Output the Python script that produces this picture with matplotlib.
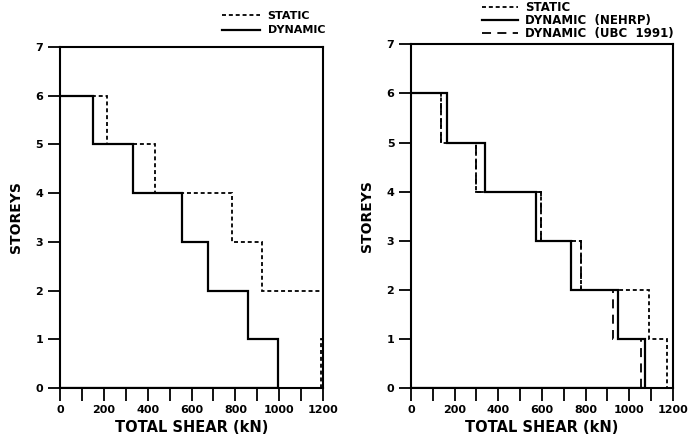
import matplotlib
matplotlib.use("Agg")
import matplotlib.pyplot as plt

# storey numbers (edges) and shear per storey (storey 1 .. 6), kN
storey_edges = [0, 1, 2, 3, 4, 5, 6]

left_static = [1188, 1198, 922, 783, 435, 213]
left_dynamic = [992, 857, 676, 556, 331, 149]

right_static = [1172, 1090, 780, 598, 300, 137]
right_nehrp = [1072, 950, 732, 575, 341, 163]
right_ubc = [1055, 925, 780, 598, 300, 137]

xticks = [0, 200, 400, 600, 800, 1000, 1200]
yticks = [0, 1, 2, 3, 4, 5, 6, 7]

plt.rcParams['font.family'] = ['DejaVu Sans']
plt.rcParams['font.weight'] = 'bold'

fig = plt.figure(figsize=(6.89, 4.43), dpi=100)
axL = fig.add_axes([0.087, 0.124, 0.382, 0.770])
axR = fig.add_axes([0.5965, 0.124, 0.380, 0.776])

STATIC = (0, (2.2, 1.6))
UBC = (0, (5, 3.5))

def style(ax):
    ax.set_xlim(0, 1200)
    ax.set_ylim(0, 7)
    ax.set_xticks(xticks)
    ax.set_xticks(range(0, 1201, 100), minor=True)
    ax.set_yticks(yticks)
    ax.tick_params(axis='both', which='both', direction='out', length=9,
                   width=1.3, labelsize=8, pad=3)
    for s in ax.spines.values():
        s.set_linewidth(1.5)
    ax.set_xlabel('TOTAL SHEAR (kN)', fontsize=10.5, fontweight='bold', labelpad=4)
    ax.set_ylabel('STOREYS', fontsize=10, fontweight='bold', labelpad=9)
    for lab in ax.get_xticklabels() + ax.get_yticklabels():
        lab.set_fontweight('bold')

# left panel
axL.stairs(left_static, storey_edges, orientation='horizontal', baseline=0,
           color='black', lw=1.3, linestyle=STATIC, label='STATIC')
axL.stairs(left_dynamic, storey_edges, orientation='horizontal', baseline=0,
           color='black', lw=1.6, label='DYNAMIC')
style(axL)
legL = fig.legend(handles=axL.get_legend_handles_labels()[0],
                  labels=axL.get_legend_handles_labels()[1],
                  loc='upper left', bbox_to_anchor=(222 / 689, 1 - 11 / 443),
                  bbox_transform=fig.transFigure, frameon=False,
                  fontsize=8, handlelength=3.4, handletextpad=0.7,
                  labelspacing=0.4, borderpad=0, borderaxespad=0)
for t in legL.get_texts():
    t.set_fontweight('bold')

# right panel
axR.stairs(right_static, storey_edges, orientation='horizontal', baseline=0,
           color='black', lw=1.3, linestyle=STATIC, label='STATIC')
axR.stairs(right_nehrp, storey_edges, orientation='horizontal', baseline=0,
           color='black', lw=1.6, label='DYNAMIC  (NEHRP)')
axR.stairs(right_ubc, storey_edges, orientation='horizontal', baseline=0,
           color='black', lw=1.3, linestyle=UBC, label='DYNAMIC  (UBC  1991)')
style(axR)
legR = fig.legend(handles=axR.get_legend_handles_labels()[0],
                  labels=axR.get_legend_handles_labels()[1],
                  loc='upper left', bbox_to_anchor=(482 / 689, 1 - 1 / 443),
                  bbox_transform=fig.transFigure, frameon=False,
                  fontsize=8.5, handlelength=3.05, handletextpad=0.6,
                  labelspacing=0.0, borderpad=0, borderaxespad=0)
for t in legR.get_texts():
    t.set_fontweight('bold')

fig.savefig('out.png', dpi=100)
